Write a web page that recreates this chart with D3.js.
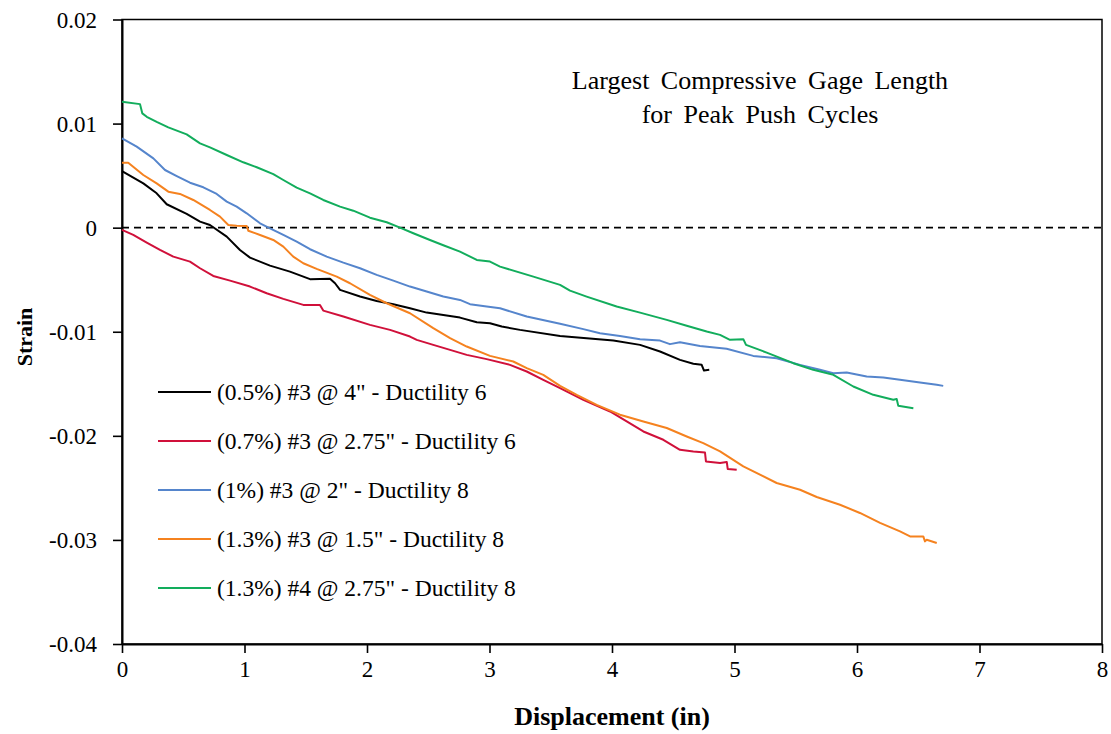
<!DOCTYPE html>
<html>
<head>
<meta charset="utf-8">
<script src="https://cdn.jsdelivr.net/npm/d3@7"></script>
<style>
  html, body { margin: 0; padding: 0; background: #fff; }
  svg { display: block; }
</style>
</head>
<body>
<svg id="chart" width="1111" height="734"></svg>
<script>
// Peak push cycles: strain at largest compressive gage length vs. displacement (in)
const seriesNames = [
  '(0.5%) #3 @ 4" - Ductility 6',
  '(0.7%) #3 @ 2.75" - Ductility 6',
  '(1%) #3 @ 2" - Ductility 8',
  '(1.3%) #3 @ 1.5" - Ductility 8',
  '(1.3%) #4 @ 2.75" - Ductility 8'
];
const seriesColors = ["#000000", "#D0103A", "#5585CC", "#F5821F", "#12AD5C"];

const xTicks = [0, 1, 2, 3, 4, 5, 6, 7, 8];
const xTickLabels = ["0", "1", "2", "3", "4", "5", "6", "7", "8"];
const yTicks = [0.02, 0.01, 0, -0.01, -0.02, -0.03, -0.04];
const yTickLabels = ["0.02", "0.01", "0", "-0.01", "-0.02", "-0.03", "-0.04"];

// [displacement, strain]
const ductility6Rho05 = [
  [0.00, 0.00544], [0.174, 0.00426], [0.283, 0.00330], [0.365, 0.00225], [0.528, 0.00132],
  [0.637, 0.00058], [0.718, 0.00026], [0.855, -0.00086], [0.963, -0.00214], [1.045, -0.00288],
  [1.208, -0.00365], [1.371, -0.00422], [1.535, -0.00495], [1.698, -0.00490], [1.739, -0.00534],
  [1.780, -0.00598], [1.943, -0.00662], [2.079, -0.00704], [2.215, -0.00735], [2.351, -0.00774],
  [2.487, -0.00816], [2.623, -0.00838], [2.759, -0.00864], [2.896, -0.00908], [3.004, -0.00918],
  [3.100, -0.00950], [3.249, -0.00982], [3.576, -0.01040], [3.793, -0.01062], [4.011, -0.01085],
  [4.229, -0.01126], [4.392, -0.01190], [4.555, -0.01270], [4.664, -0.01308], [4.732, -0.01318],
  [4.751, -0.01373], [4.794, -0.01366]
];
const ductility6Rho07 = [
  [0.00, -0.00022], [0.092, -0.00070], [0.202, -0.00144], [0.310, -0.00214], [0.419, -0.00278],
  [0.555, -0.00326], [0.637, -0.00390], [0.745, -0.00464], [0.882, -0.00509], [1.045, -0.00566],
  [1.181, -0.00630], [1.317, -0.00684], [1.480, -0.00742], [1.616, -0.00742], [1.643, -0.00797],
  [1.807, -0.00854], [2.024, -0.00934], [2.188, -0.00982], [2.351, -0.01046], [2.406, -0.01078],
  [2.541, -0.01126], [2.678, -0.01174], [2.814, -0.01222], [2.977, -0.01263], [3.167, -0.01318],
  [3.304, -0.01382], [3.439, -0.01462], [3.576, -0.01542], [3.766, -0.01654], [3.984, -0.01766],
  [4.120, -0.01862], [4.256, -0.01958], [4.419, -0.02038], [4.555, -0.02134], [4.664, -0.02150],
  [4.759, -0.02160], [4.767, -0.02246], [4.882, -0.02262], [4.937, -0.02252], [4.945, -0.02319],
  [5.018, -0.02326]
];
const ductility8Rho10 = [
  [0.00, 0.00858], [0.120, 0.00778], [0.256, 0.00666], [0.351, 0.00554], [0.447, 0.00496],
  [0.555, 0.00432], [0.664, 0.00388], [0.773, 0.00324], [0.855, 0.00250], [0.936, 0.00202],
  [1.018, 0.00138], [1.127, 0.00042], [1.208, -0.00006], [1.317, -0.00070], [1.426, -0.00134],
  [1.535, -0.00207], [1.671, -0.00278], [1.807, -0.00336], [1.943, -0.00390], [2.079, -0.00454],
  [2.215, -0.00509], [2.351, -0.00566], [2.487, -0.00614], [2.623, -0.00662], [2.759, -0.00694],
  [2.841, -0.00735], [2.977, -0.00758], [3.086, -0.00774], [3.304, -0.00854], [3.576, -0.00924],
  [3.766, -0.00975], [3.902, -0.01014], [4.065, -0.01040], [4.229, -0.01071], [4.392, -0.01085],
  [4.473, -0.01119], [4.555, -0.01100], [4.718, -0.01136], [4.936, -0.01164], [5.153, -0.01232],
  [5.344, -0.01254], [5.535, -0.01318], [5.698, -0.01366], [5.807, -0.01398], [5.916, -0.01392],
  [6.079, -0.01430], [6.215, -0.01440], [6.351, -0.01462], [6.514, -0.01488], [6.651, -0.01510],
  [6.704, -0.01520]
];
const ductility8Rho13a = [
  [0.00, 0.00624], [0.051, 0.00624], [0.174, 0.00506], [0.283, 0.00426], [0.378, 0.00346],
  [0.473, 0.00324], [0.582, 0.00266], [0.718, 0.00170], [0.800, 0.00106], [0.868, 0.00026],
  [0.936, 0.00019], [1.018, 0.00016], [1.031, -0.00029], [1.127, -0.00070], [1.235, -0.00118],
  [1.317, -0.00182], [1.398, -0.00278], [1.480, -0.00342], [1.589, -0.00396], [1.753, -0.00470],
  [1.861, -0.00534], [2.024, -0.00646], [2.161, -0.00726], [2.351, -0.00822], [2.541, -0.00966],
  [2.678, -0.01062], [2.814, -0.01142], [3.004, -0.01232], [3.194, -0.01286], [3.304, -0.01350],
  [3.439, -0.01414], [3.576, -0.01520], [3.712, -0.01606], [3.875, -0.01702], [4.065, -0.01797],
  [4.256, -0.01862], [4.447, -0.01925], [4.610, -0.02006], [4.745, -0.02070], [4.882, -0.02150],
  [5.072, -0.02294], [5.344, -0.02453], [5.535, -0.02518], [5.671, -0.02588], [5.861, -0.02662],
  [6.024, -0.02741], [6.188, -0.02837], [6.351, -0.02918], [6.433, -0.02966], [6.541, -0.02966],
  [6.555, -0.03014], [6.569, -0.02998], [6.651, -0.03029]
];
const ductility8Rho13b = [
  [0.00, 0.01209], [0.147, 0.01187], [0.166, 0.01098], [0.202, 0.01065], [0.283, 0.01017],
  [0.378, 0.00964], [0.528, 0.00896], [0.637, 0.00810], [0.718, 0.00772], [0.855, 0.00698],
  [0.990, 0.00628], [1.100, 0.00580], [1.235, 0.00515], [1.317, 0.00458], [1.426, 0.00384],
  [1.535, 0.00330], [1.643, 0.00266], [1.780, 0.00202], [1.888, 0.00163], [2.024, 0.00096],
  [2.161, 0.00052], [2.269, 0.00000], [2.378, -0.00054], [2.514, -0.00118], [2.623, -0.00169],
  [2.759, -0.00230], [2.896, -0.00310], [3.004, -0.00326], [3.086, -0.00374], [3.358, -0.00470],
  [3.576, -0.00550], [3.657, -0.00605], [3.793, -0.00662], [4.038, -0.00758], [4.229, -0.00816],
  [4.447, -0.00886], [4.610, -0.00943], [4.773, -0.00998], [4.882, -0.01030], [4.963, -0.01078],
  [5.072, -0.01071], [5.094, -0.01126], [5.263, -0.01200], [5.480, -0.01302], [5.643, -0.01366],
  [5.807, -0.01414], [5.970, -0.01526], [6.133, -0.01606], [6.296, -0.01654], [6.324, -0.01647],
  [6.337, -0.01712], [6.460, -0.01734]
];
const seriesData = [ductility6Rho05, ductility6Rho07, ductility8Rho10, ductility8Rho13a, ductility8Rho13b];

const FONT = "'Liberation Serif', 'Times New Roman', Times, 'DejaVu Serif', serif";

const svg = d3.select("#chart");
const plotLeft = 122, plotRight = 1102, plotTop = 19.5, plotBottom = 644;

const x = d3.scaleLinear().domain([0, 8]).range([plotLeft, plotRight]);
const y = d3.scaleLinear().domain([-0.04, 0.02]).range([plotBottom, plotTop]);

// plot frame
svg.append("rect")
  .attr("x", plotLeft).attr("y", plotTop)
  .attr("width", plotRight - plotLeft).attr("height", plotBottom - plotTop)
  .attr("fill", "none").attr("stroke", "#000").attr("stroke-width", 1.5);

// zero reference line
svg.append("line")
  .attr("x1", x(0)).attr("x2", x(8))
  .attr("y1", y(0)).attr("y2", y(0))
  .attr("stroke", "#000").attr("stroke-width", 1.6)
  .attr("stroke-dasharray", "7,5");

// axes
const xAxis = d3.axisBottom(x).tickValues(xTicks)
  .tickFormat((d, i) => xTickLabels[i]).tickSizeInner(9).tickSizeOuter(0).tickPadding(8);
const gx = svg.append("g").attr("transform", `translate(0,${plotBottom})`).call(xAxis);
const yAxis = d3.axisLeft(y).tickValues(yTicks)
  .tickFormat((d, i) => yTickLabels[i]).tickSizeInner(9).tickSizeOuter(0).tickPadding(16);
const gy = svg.append("g").attr("transform", `translate(${plotLeft},0)`).call(yAxis);

[gx, gy].forEach(g => {
  g.attr("font-family", FONT).attr("font-size", 23);
  g.select(".domain").attr("stroke", "#000").attr("stroke-width", 2);
  g.selectAll(".tick line").attr("stroke", "#000").attr("stroke-width", 1.6);
  g.selectAll(".tick text").attr("fill", "#000");
});
gx.selectAll(".tick text").attr("dy", "0.71em");
gy.selectAll(".tick text").attr("dy", "0.34em");

// series lines
const line = d3.line().x(d => x(d[0])).y(d => y(d[1]));
seriesData.forEach((data, i) => {
  svg.append("path")
    .datum(data)
    .attr("d", line)
    .attr("fill", "none")
    .attr("stroke", seriesColors[i])
    .attr("stroke-width", 2)
    .attr("stroke-linejoin", "round");
});

// axis titles
svg.append("text")
  .attr("x", 612).attr("y", 725)
  .attr("text-anchor", "middle")
  .attr("font-family", FONT).attr("font-size", 26).attr("font-weight", "bold")
  .text("Displacement (in)");
svg.append("text")
  .attr("transform", "translate(32,337) rotate(-90)")
  .attr("text-anchor", "middle")
  .attr("font-family", FONT).attr("font-size", 22).attr("font-weight", "bold")
  .text("Strain");

// chart title
const title = svg.append("text").attr("text-anchor", "middle")
  .attr("font-family", FONT).attr("font-size", 26).attr("word-spacing", 5);
title.append("tspan").attr("x", 760).attr("y", 89).text("Largest Compressive Gage Length");
title.append("tspan").attr("x", 760).attr("y", 123).text("for Peak Push Cycles");

// legend
const legend = svg.append("g").attr("font-family", FONT).attr("font-size", 23.5);
seriesNames.forEach((name, i) => {
  const ly = 392 + i * 49;
  legend.append("line")
    .attr("x1", 158).attr("x2", 211)
    .attr("y1", ly).attr("y2", ly)
    .attr("stroke", seriesColors[i]).attr("stroke-width", 2);
  legend.append("text")
    .attr("x", 217).attr("y", ly).attr("dy", "0.35em")
    .text(name);
});
</script>
</body>
</html>
